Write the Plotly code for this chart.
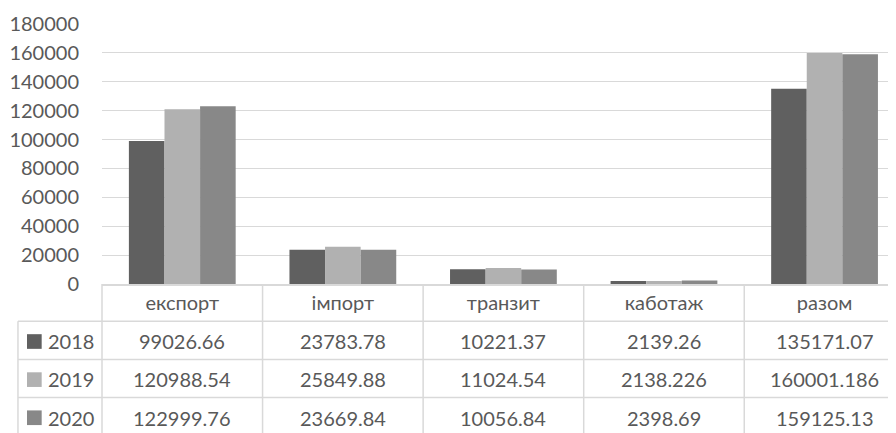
import plotly.graph_objects as go

categories = ["експорт", "імпорт", "транзит", "каботаж", "разом"]
years = ["2018", "2019", "2020"]
v2018 = [99026.66, 23783.78, 10221.37, 2139.26, 135171.07]
v2019 = [120988.54, 25849.88, 11024.54, 2138.226, 160001.186]
v2020 = [122999.76, 23669.84, 10056.84, 2398.69, 159125.13]
series = [v2018, v2019, v2020]
colors = ["#606060", "#b1b1b1", "#888888"]

OFF = 8  # page body margin of the html page
WIN_W, WIN_H = 896, 433
W, H = WIN_W - OFF, WIN_H - OFF

# target positions in window pixels
PLOT_LEFT = 102.3
PLOT_TOP = 23.7
AX_BOTTOM = 284.3

ML = PLOT_LEFT - OFF
MT = PLOT_TOP - OFF
MB = H - (AX_BOTTOM - OFF)
plot_h = AX_BOTTOM - PLOT_TOP
plot_w = W - ML
XMIN, XMAX = -0.5, 4.445

TXT = "#595959"
LINE = "#d9d9d9"
FONT = "Lato"
FS = 20

def py(px):
    return (AX_BOTTOM - px) / plot_h

def pxp(px):
    return (px - PLOT_LEFT) / plot_w

fig = go.Figure()
for yr, vals, c in zip(years, series, colors):
    fig.add_trace(go.Bar(x=categories, y=vals, name=yr, marker=dict(color=c, line=dict(width=0)),
                         showlegend=False))

row_h = 38.2
row_lines = [AX_BOTTOM + 37.4 + i * row_h for i in range(3)]
shapes = []
for yl in row_lines:
    shapes.append(dict(type="line", xref="paper", yref="paper", x0=pxp(18.3), x1=1.02,
                       y0=py(yl), y1=py(yl), line=dict(color=LINE, width=1.5)))
shapes.append(dict(type="line", xref="paper", yref="paper", x0=pxp(18.3), x1=pxp(18.3),
                   y0=py(row_lines[0]), y1=py(WIN_H + 10), line=dict(color=LINE, width=1.5)))
shapes.append(dict(type="line", xref="paper", yref="paper", x0=0, x1=0,
                   y0=0, y1=py(WIN_H + 10), line=dict(color=LINE, width=1.5)))
for i in range(len(categories) - 1):
    shapes.append(dict(type="line", xref="x", yref="paper", x0=i + 0.5, x1=i + 0.5,
                       y0=0, y1=py(WIN_H + 10), line=dict(color=LINE, width=1.5)))

annotations = []
for r, (yr, vals, c) in enumerate(zip(years, series, colors)):
    yc = row_lines[r] + row_h / 2
    shapes.append(dict(type="rect", xref="paper", yref="paper", x0=pxp(27.3), x1=pxp(42),
                       y0=py(yc + 8.5), y1=py(yc - 6.2), fillcolor=c, line=dict(width=0)))
    annotations.append(dict(text=yr, xref="paper", yref="paper", x=pxp(46), y=py(yc + 1),
                            xanchor="left", yanchor="middle", showarrow=False,
                            font=dict(family=FONT, size=FS, color=TXT)))
    for i, v in enumerate(vals):
        annotations.append(dict(text=str(v), xref="x", yref="paper", x=i, y=py(yc + 1),
                                xanchor="center", yanchor="middle", showarrow=False,
                                font=dict(family=FONT, size=FS, color=TXT)))

fig.update_layout(
    width=W, height=H,
    margin=dict(l=ML, r=0, t=MT, b=MB, pad=0),
    paper_bgcolor="white", plot_bgcolor="white",
    barmode="group", bargap=0.335, bargroupgap=0,
    font=dict(family=FONT, size=FS, color=TXT),
    shapes=shapes, annotations=annotations,
    xaxis=dict(type="category", range=[XMIN, XMAX], showgrid=False, showline=True,
               linecolor=LINE, linewidth=1.5, ticks="", tickfont=dict(family=FONT, size=FS, color=TXT),
               ticklabelstandoff=0, zeroline=False),
    yaxis=dict(range=[0, 180000], dtick=20000, showgrid=True, gridcolor=LINE, gridwidth=1.3,
               showline=False, zeroline=False, ticks="", tickformat="d",
               tickfont=dict(family=FONT, size=FS, color=TXT), ticklabelstandoff=22),
)

fig.write_html("out.html")
